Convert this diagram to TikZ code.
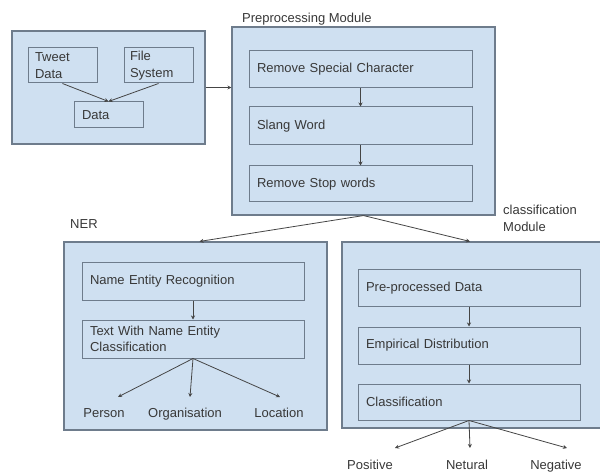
\documentclass[tikz,border=0pt]{standalone}
\usepackage{fontspec}
\setmainfont{Liberation Sans}
\usetikzlibrary{arrows.meta}
\definecolor{boxblue}{HTML}{CFE0F1}
\definecolor{edgec}{HTML}{6E7C8C}
\definecolor{txt}{HTML}{383838}
\definecolor{arrc}{HTML}{454545}
\begin{document}
\begin{tikzpicture}[x=1pt,y=-1pt,
  every node/.style={font=\fontsize{13}{15.5}\selectfont, text=txt},
  outer/.style={draw=edgec, fill=boxblue, line width=1.1pt, inner sep=0pt},
  inbox/.style={draw=edgec, fill=boxblue, line width=1pt, align=left, inner xsep=8pt, inner ysep=0pt},
  lbl/.style={inner sep=0pt},
  arr/.style={draw=arrc, line width=0.8pt, -{Stealth[length=4pt,width=4pt]}}
]
\useasboundingbox[fill=white] (0,0) rectangle (600,473);

% source box
\node[outer, minimum width=193pt, minimum height=113pt] (src) at (108.5,87.5) {};
\node[inbox, inner xsep=7pt, minimum height=35pt, text width=55pt] (tw) at (62.5,65.5) {Tweet\\[1.5pt]Data};
\node[inbox, inner xsep=6pt, minimum height=35pt, text width=57pt] (fs) at (158.5,65.5) {File\\[1.5pt]System};
\node[inbox, minimum height=26pt, text width=53pt] (data) at (108.5,115) {Data};

% preprocessing module
\node[lbl, anchor=base west] (prelbl) at (242,22.5) {Preprocessing Module};
\node[outer, minimum width=263pt, minimum height=188pt] (pre) at (363.5,121) {};
\node[inbox, minimum width=223pt, minimum height=37pt, text width=207pt] (rsc) at (360.5,69.5) {Remove Special Character};
\node[inbox, minimum width=223pt, minimum height=38pt, text width=207pt] (slang) at (360.5,126) {Slang Word};
\node[inbox, minimum width=223pt, minimum height=36pt, text width=207pt] (rsw) at (360.5,184) {Remove Stop words};

% NER
\node[lbl, anchor=base west] (nerlbl) at (70,228.5) {NER};
\node[outer, minimum width=263pt, minimum height=188pt] (ner) at (195.5,336) {};
\node[inbox, minimum width=222pt, minimum height=37pt, text width=206pt] (ner1) at (193,281.5) {Name Entity Recognition};
\node[inbox, minimum width=222pt, minimum height=38pt, text width=206pt] (twc) at (193,339) {Text With Name Entity\\Classification};
\node[lbl, anchor=base] (person) at (104,417.5) {Person};
\node[lbl, anchor=base] (org) at (185,417.5) {Organisation};
\node[lbl, anchor=base] (loc) at (279,417.5) {Location};
\coordinate (pe) at (118,397);
\coordinate (oe) at (190,397);
\coordinate (le) at (280,397);

% classification module
\node[lbl, anchor=base west, align=left] (clslbl) at (503,231.5) {classification\\[1.5pt]Module};
\node[outer, minimum width=262pt, minimum height=186pt] (cls) at (473,335) {};
\node[inbox, minimum width=222pt, minimum height=36pt, text width=206pt] (c1) at (469,288) {Pre-processed Data};
\node[inbox, minimum width=222pt, minimum height=37pt, text width=206pt] (c2) at (469,345.5) {Empirical Distribution};
\node[inbox, minimum width=222pt, minimum height=36pt, text width=206pt] (c3) at (469,402) {Classification};
\node[lbl, anchor=base] (pos) at (370,469.5) {Positive};
\node[lbl, anchor=base] (neu) at (467,469.5) {Netural};
\node[lbl, anchor=base] (neg) at (556,469.5) {Negative};
\coordinate (pse) at (395,448);
\coordinate (nue) at (470,448);
\coordinate (nge) at (567,448);

% connectors
\draw[arr] (tw.south) -- (data.north);
\draw[arr] (fs.south) -- (data.north);
\draw[arr] (src.east) -- (src.east -| pre.west);
\draw[arr] (rsc.south) -- (slang.north);
\draw[arr] (slang.south) -- (rsw.north);
\draw[arr] (pre.south) -- ([xshift=4pt]ner.north);
\draw[arr] (pre.south) -- ([xshift=-3pt]cls.north);
\draw[arr] (ner1.south) -- (twc.north);
\draw[arr] (twc.south) -- (pe);
\draw[arr] (twc.south) -- (oe);
\draw[arr] (twc.south) -- (le);
\draw[arr] (c1.south) -- (c2.north);
\draw[arr] (c2.south) -- (c3.north);
\draw[arr] (c3.south) -- (pse);
\draw[arr] (c3.south) -- (nue);
\draw[arr] (c3.south) -- (nge);
\end{tikzpicture}
\end{document}
